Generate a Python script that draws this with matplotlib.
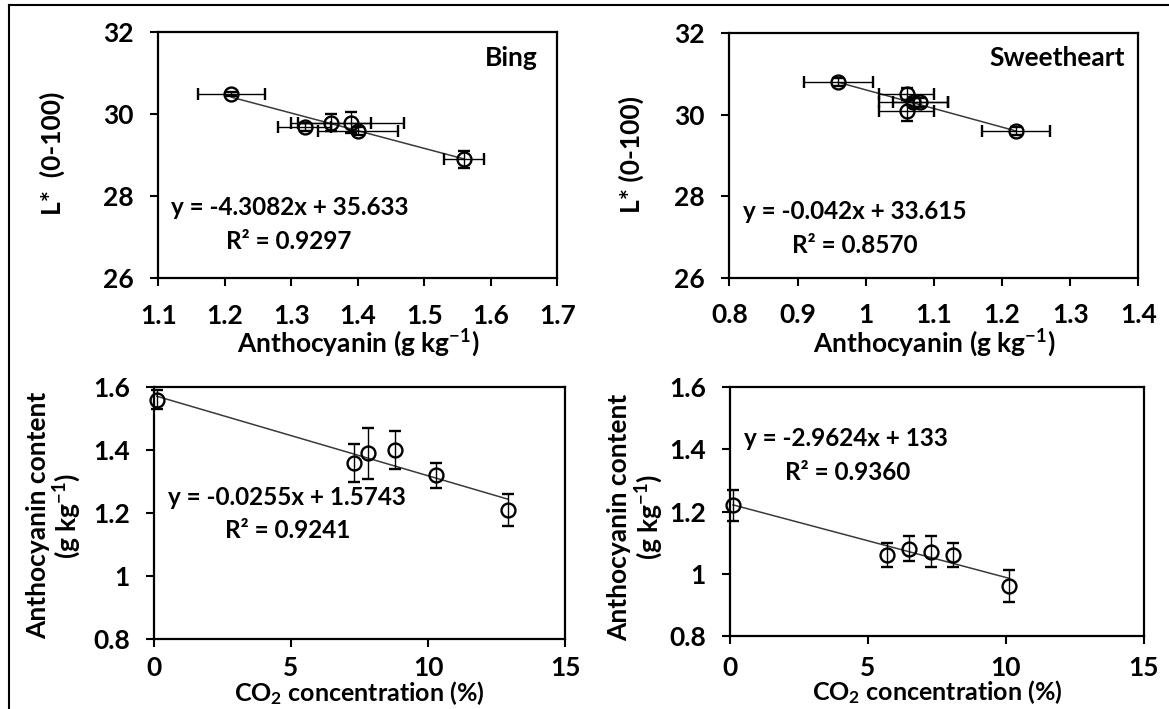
import numpy as np
import matplotlib
matplotlib.use('Agg')
import matplotlib.pyplot as plt
from matplotlib.lines import Line2D
from matplotlib.ticker import FuncFormatter

# ---------------- data ----------------
# Bing
bing_co2 = [0.1, 7.3, 7.8, 8.8, 10.3, 12.9]
bing_anth = [1.56, 1.36, 1.39, 1.40, 1.32, 1.21]
bing_anth_err = [0.03, 0.06, 0.08, 0.06, 0.04, 0.05]
bing_L = [28.9, 29.8, 29.8, 29.6, 29.7, 30.5]
bing_L_err = [0.2, 0.2, 0.25, 0.1, 0.1, 0.05]

# Sweetheart
sw_co2 = [0.1, 5.7, 6.5, 7.3, 8.1, 10.1]
sw_anth = [1.22, 1.06, 1.08, 1.07, 1.06, 0.96]
sw_anth_err = [0.05, 0.04, 0.04, 0.05, 0.04, 0.05]
sw_L = [29.6, 30.5, 30.3, 30.3, 30.1, 30.8]
sw_L_err = [0.1, 0.15, 0.1, 0.1, 0.25, 0.1]

# ticks
lstar_ticks = [26, 28, 30, 32]
bing_anth_ticks = [1.1, 1.2, 1.3, 1.4, 1.5, 1.6, 1.7]
sw_anth_ticks = [0.8, 0.9, 1.0, 1.1, 1.2, 1.3, 1.4]
content_ticks = [0.8, 1.0, 1.2, 1.4, 1.6]
co2_ticks = [0, 5, 10, 15]

# text
eq_bing_L = "y = -4.3082x + 35.633"
r2_bing_L = "R\u00b2 = 0.9297"
eq_sw_L = "y = -0.042x + 33.615"
r2_sw_L = "R\u00b2 = 0.8570"
eq_bing_c = "y = -0.0255x + 1.5743"
r2_bing_c = "R\u00b2 = 0.9241"
eq_sw_c = "y = -2.9624x + 133"
r2_sw_c = "R\u00b2 = 0.9360"

# ---------------- style ----------------
plt.rcParams['font.family'] = ['Lato', 'DejaVu Sans']
plt.rcParams['font.weight'] = 'bold'
plt.rcParams['mathtext.fontset'] = 'custom'
plt.rcParams['mathtext.rm'] = 'Lato:bold'
plt.rcParams['mathtext.bf'] = 'Lato:bold'
plt.rcParams['mathtext.default'] = 'regular'

FS = 19       # ticks, axis labels, cultivar names
FS_EQ = 17.5  # trendline equations
FS_BX = 18    # bottom x-axis labels

fig = plt.figure(figsize=(11.69, 7.09), dpi=100)

ax_tl = fig.add_axes([0.1354, 0.6075, 0.3413, 0.3467])
ax_tr = fig.add_axes([0.6239, 0.6082, 0.3500, 0.3450])
ax_bl = fig.add_axes([0.1317, 0.0987, 0.3518, 0.3550])
ax_br = fig.add_axes([0.6247, 0.1034, 0.3535, 0.3503])

fmt = FuncFormatter(lambda v, p: '{:g}'.format(round(v, 3)))


def style(ax, xticks, yticks, xpad=13):
    ax.set_xlim(xticks[0], xticks[-1])
    ax.set_ylim(yticks[0], yticks[-1])
    ax.set_xticks(xticks)
    ax.set_yticks(yticks)
    ax.xaxis.set_major_formatter(fmt)
    ax.yaxis.set_major_formatter(fmt)
    for s in ax.spines.values():
        s.set_linewidth(1.6)
        s.set_color('black')
    ax.tick_params(axis='both', direction='out', length=5.5, width=1.5,
                   labelsize=FS, top=False, right=False, colors='black')
    ax.tick_params(axis='x', pad=xpad)
    ax.tick_params(axis='y', pad=12)


def panel(ax, x, y, xerr, yerr):
    ax.errorbar(x, y, xerr=xerr, yerr=yerr, fmt='o', mfc='none', mec='black',
                mew=1.7, ms=10, ecolor='black', elinewidth=1.0, capsize=4,
                capthick=1.0, zorder=3, clip_on=False)
    fit = np.polyfit(x, y, 1)
    xs = np.array([min(x), max(x)])
    ax.plot(xs, np.polyval(fit, xs), color='#3a3a3a', lw=1.1, zorder=2)


def ylabel(ax, text, xc, yc):
    ax.set_ylabel(text, fontsize=FS, fontweight='bold', linespacing=1.05)
    ax.yaxis.set_label_coords(xc, yc)
    ax.yaxis.label.set_verticalalignment('center')


def xlabel(ax, text, yc, size=FS):
    ax.set_xlabel(text, fontsize=size, fontweight='bold')
    ax.xaxis.set_label_coords(0.5, yc)
    ax.xaxis.label.set_verticalalignment('center')


def note(ax, text, x, y, ha='center', size=FS_EQ):
    ax.text(x, y, text, transform=ax.transAxes, ha=ha, va='center',
            fontsize=size, fontweight='bold')


# Top-left: Bing L* vs anthocyanin
panel(ax_tl, bing_anth, bing_L, bing_anth_err, bing_L_err)
style(ax_tl, bing_anth_ticks, lstar_ticks)
ylabel(ax_tl, "L*  (0-100)", -0.266, 0.51)
xlabel(ax_tl, "Anthocyanin (g kg$^{-1}$)", -0.263)
note(ax_tl, "Bing", 0.952, 0.896, ha='right', size=FS)
note(ax_tl, eq_bing_L, 0.330, 0.286)
note(ax_tl, r2_bing_L, 0.327, 0.148)

# Top-right: Sweetheart L* vs anthocyanin
panel(ax_tr, sw_anth, sw_L, sw_anth_err, sw_L_err)
style(ax_tr, sw_anth_ticks, lstar_ticks)
ylabel(ax_tr, "L* (0-100)", -0.240, 0.502)
xlabel(ax_tr, "Anthocyanin (g kg$^{-1}$)", -0.267)
note(ax_tr, "Sweetheart", 0.967, 0.899, ha='right', size=FS)
note(ax_tr, eq_sw_L, 0.307, 0.269)
note(ax_tr, r2_sw_L, 0.307, 0.134)

# Bottom-left: Bing anthocyanin vs CO2
panel(ax_bl, bing_co2, bing_anth, None, bing_anth_err)
style(ax_bl, co2_ticks, content_ticks, xpad=7)
ylabel(ax_bl, "Anthocyanin content\n(g kg$^{-1}$)", -0.242, 0.49)
xlabel(ax_bl, "CO$_{2}$ concentration (%)", -0.215, size=FS_BX)
note(ax_bl, eq_bing_c, 0.323, 0.563)
note(ax_bl, r2_bing_c, 0.326, 0.432)

# Bottom-right: Sweetheart anthocyanin vs CO2
panel(ax_br, sw_co2, sw_anth, None, sw_anth_err)
style(ax_br, co2_ticks, content_ticks, xpad=9)
ylabel(ax_br, "Anthocyanin content\n(g kg$^{-1}$)", -0.228, 0.478)
xlabel(ax_br, "CO$_{2}$ concentration (%)", -0.225, size=FS_BX)
note(ax_br, eq_sw_c, 0.281, 0.792)
note(ax_br, r2_sw_c, 0.285, 0.659)

# outer frame (left and top edges visible)
fx = 9 / 1169
fy = 1 - 5 / 709
fig.add_artist(Line2D([fx, fx], [0, fy], transform=fig.transFigure,
                      color='black', lw=1.5))
fig.add_artist(Line2D([fx, 1.0], [fy, fy], transform=fig.transFigure,
                      color='black', lw=1.5))

fig.savefig('out.png', dpi=100)
